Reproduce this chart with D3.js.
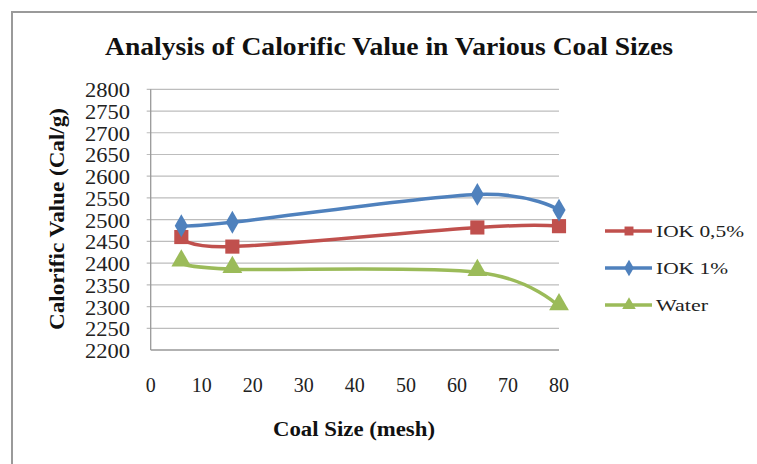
<!DOCTYPE html>
<html><head><meta charset="utf-8">
<script src="https://cdn.jsdelivr.net/npm/d3@7"></script>
<style>body{margin:0;background:#fff;}svg{display:block;}</style>
</head><body>
<script>
const title = "Analysis of Calorific Value in Various Coal Sizes";
const xLabel = "Coal Size (mesh)";
const yLabel = "Calorific Value (Cal/g)";
const coalSize = [6, 16, 64, 80];
const iok05 = [2460, 2438, 2482, 2485];
const iok1 = [2486, 2494, 2558, 2522];
const water = [2401, 2386, 2379, 2300];
const seriesNames = ["IOK 0,5%", "IOK 1%", "Water"];
const xTicks = [0, 10, 20, 30, 40, 50, 60, 70, 80];
const yTicks = [2200, 2250, 2300, 2350, 2400, 2450, 2500, 2550, 2600, 2650, 2700, 2750, 2800];

const W = 757, H = 464;
const svg = d3.select("body").append("svg").attr("width", W).attr("height", H);
const font = "'Liberation Serif','Times New Roman',serif";

// outer chart border
svg.append("path").attr("d", `M12,${H} L12,12 L${W},12`).attr("fill","none").attr("stroke","#9a9a9a").attr("stroke-width",2);

const x = d3.scaleLinear().domain([0, 80]).range([150.7, 559]);
const y = d3.scaleLinear().domain([2200, 2800]).range([350, 89.3]);

// gridlines
svg.append("g").selectAll("line").data(yTicks.slice(1)).join("line")
  .attr("x1", x(0) - 4).attr("x2", x(80)).attr("y1", d => y(d)).attr("y2", d => y(d))
  .attr("stroke", "#bdbdbd").attr("stroke-width", 1.2);
// axes lines
svg.append("line").attr("x1", x(0)).attr("x2", x(0)).attr("y1", y(2800)).attr("y2", y(2200)).attr("stroke","#999").attr("stroke-width",1.3);
svg.append("line").attr("x1", x(0)).attr("x2", x(80)).attr("y1", y(2200)).attr("y2", y(2200)).attr("stroke","#999").attr("stroke-width",1.3);

// y tick labels
svg.append("g").selectAll("text").data(yTicks).join("text")
  .attr("x", 130).attr("y", d => y(d) + 8).attr("text-anchor","end")
  .attr("font-family", font).attr("font-size", 20).attr("textLength", 45).attr("lengthAdjust","spacingAndGlyphs")
  .attr("fill","#222").text(d => d);
// x tick labels
svg.append("g").selectAll("text").data(xTicks).join("text")
  .attr("x", d => x(d)).attr("y", 392).attr("text-anchor","middle")
  .attr("font-family", font).attr("font-size", 20).attr("fill","#222").text(d => d);

// titles
svg.append("text").attr("x", 389).attr("y", 55).attr("text-anchor","middle")
  .attr("font-family", font).attr("font-weight","bold").attr("font-size", 25)
  .attr("textLength", 568).attr("lengthAdjust","spacingAndGlyphs").attr("fill","#111").text(title);
svg.append("text").attr("x", 354).attr("y", 436).attr("text-anchor","middle")
  .attr("font-family", font).attr("font-weight","bold").attr("font-size", 20)
  .attr("textLength", 162).attr("lengthAdjust","spacingAndGlyphs").attr("fill","#111").text(xLabel);
svg.append("text").attr("transform","translate(64,219) rotate(-90)").attr("text-anchor","middle")
  .attr("font-family", font).attr("font-weight","bold").attr("font-size", 20)
  .attr("textLength", 222).attr("lengthAdjust","spacingAndGlyphs").attr("fill","#111").text(yLabel);

const colors = ["#C0504D", "#4F81BD", "#9BBB59"];
const symbols = [d3.symbolSquare, d3.symbolDiamond, d3.symbolTriangle];
const data = [iok05, iok1, water];
const line = d3.line().x(d => x(d[0])).y(d => y(d[1])).curve(d3.curveCardinal.tension(0));

const order = [2, 0, 1];
order.forEach(i => {
  const pts = coalSize.map((c, j) => [c, data[i][j]]);
  svg.append("path").attr("d", line(pts)).attr("fill","none").attr("stroke", colors[i]).attr("stroke-width", 3.5);
});
const sizes = [200, 150, 170];
order.forEach(i => {
  const pts = coalSize.map((c, j) => [c, data[i][j]]);
  svg.append("g").selectAll("path").data(pts).join("path")
    .attr("transform", d => `translate(${x(d[0])},${y(d[1]) + (i===2?-2:0)})`)
    .attr("d", d3.symbol().type(symbols[i]).size(sizes[i])).attr("fill", colors[i]);
});

// legend
const legY = [231, 268, 305];
const legW = [88, 72, 52];
seriesNames.forEach((n, i) => {
  const g = svg.append("g");
  g.append("line").attr("x1", 605).attr("x2", 652).attr("y1", legY[i]).attr("y2", legY[i]).attr("stroke", colors[i]).attr("stroke-width", 3.5);
  g.append("path").attr("transform", `translate(629,${legY[i]})`).attr("d", d3.symbol().type(symbols[i]).size(80)).attr("fill", colors[i]);
  g.append("text").attr("x", 656).attr("y", legY[i] + 6).attr("font-family", font).attr("font-size", 17)
    .attr("textLength", legW[i]).attr("lengthAdjust","spacingAndGlyphs").attr("fill","#222").text(n);
});
</script>
</body></html>
